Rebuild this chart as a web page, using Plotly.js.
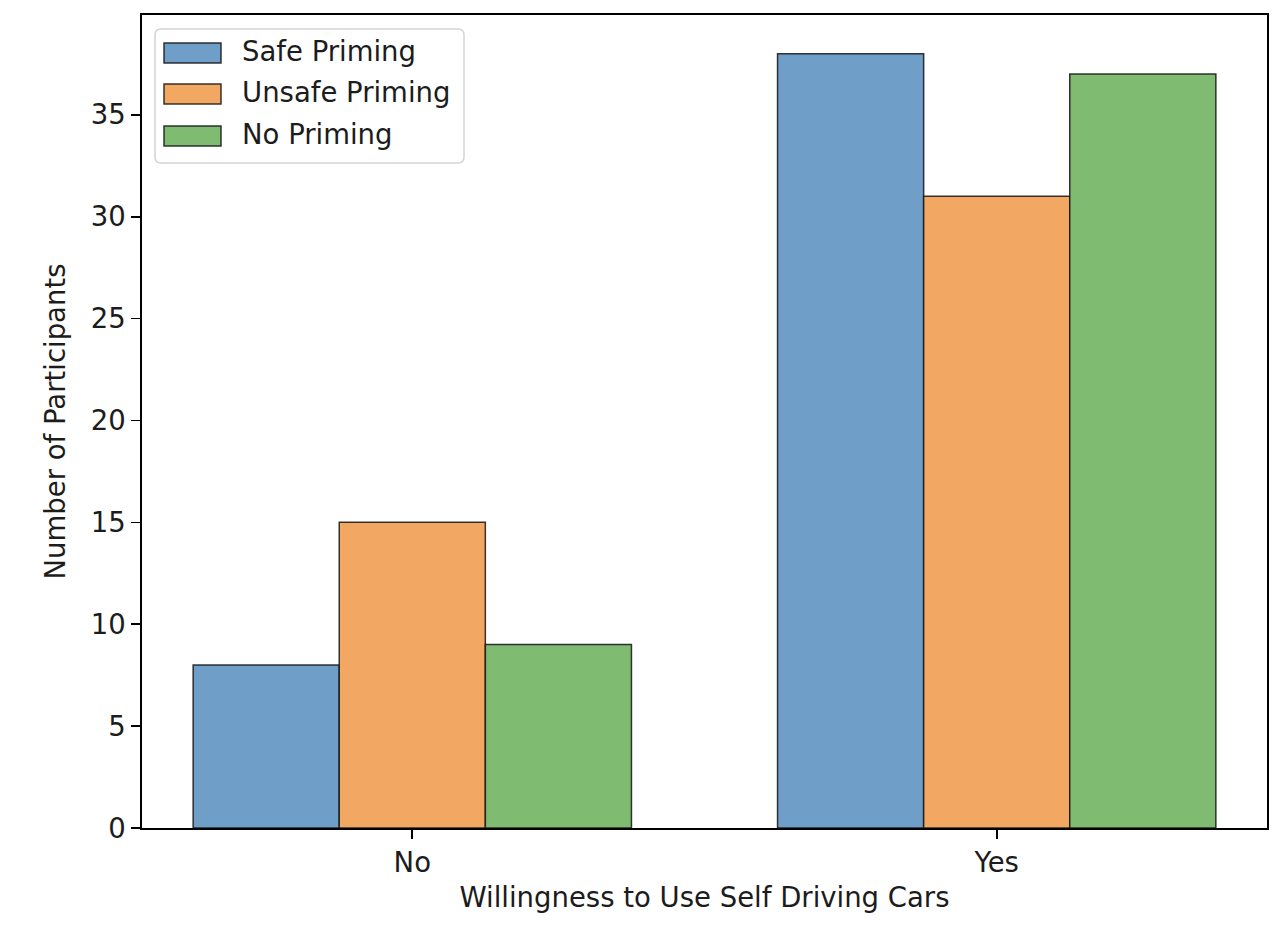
<!DOCTYPE html>
<html>
<head>
<meta charset="utf-8">
<script src="https://cdn.plot.ly/plotly-3.0.1.min.js"></script>
<style>
  html, body { margin: 0; padding: 0; background: #ffffff; }
  #chart { width: 1278px; height: 930px; }
</style>
</head>
<body>
<div id="chart"></div>
<script>
// ---- data ----
const categories = ["No", "Yes"];
const seriesNames = ["Safe Priming", "Unsafe Priming", "No Priming"];
const safePriming = [8, 38];
const unsafePriming = [15, 31];
const noPriming = [9, 37];
const yTickValues = [0, 5, 10, 15, 20, 25, 30, 35];
const xTitle = "Willingness to Use Self Driving Cars";
const yTitle = "Number of Participants";

// ---- styling ----
const colors = ["#6f9fc9", "#f2a863", "#80bb72"];
const edge = "rgba(20,20,20,0.85)";
const FONT = "DejaVu Sans, Liberation Sans, sans-serif";
const FS = 27.5;
const TXT = "#1c1c1c";

const seriesValues = [safePriming, unsafePriming, noPriming];
const traces = seriesValues.map((vals, i) => ({
  type: "bar",
  name: seriesNames[i],
  x: categories,
  y: vals,
  marker: { color: colors[i], line: { color: edge, width: 1.5 } },
  showlegend: false,
  hoverinfo: "x+y+name"
}));

// plot area in pixels
const W = 1278, H = 930;
const L = 142, R = 1267, T = 15, B = 828;
const pw = R - L, ph = B - T;
const px = x => (x - L) / pw;
const py = y => (B - y) / ph;

// custom legend (matplotlib-like)
const shapes = [];
const annotations = [];
const bx0 = 155, bx1 = 464, by0 = 29, by1 = 163, rad = 6;
function rr(x0, y0, x1, y1, r) {
  const P = (x, y) => px(x) + "," + py(y);
  return "M" + P(x0 + r, y0) + " L" + P(x1 - r, y0) +
    " Q" + P(x1, y0) + " " + P(x1, y0 + r) +
    " L" + P(x1, y1 - r) +
    " Q" + P(x1, y1) + " " + P(x1 - r, y1) +
    " L" + P(x0 + r, y1) +
    " Q" + P(x0, y1) + " " + P(x0, y1 - r) +
    " L" + P(x0, y0 + r) +
    " Q" + P(x0, y0) + " " + P(x0 + r, y0) + " Z";
}
shapes.push({
  type: "path", xref: "paper", yref: "paper",
  path: rr(bx0, by0, bx1, by1, rad),
  fillcolor: "rgba(255,255,255,0.8)",
  line: { color: "#d4d4d4", width: 1.5 },
  layer: "above"
});
const rowsY = [53, 94, 136];
seriesNames.forEach((nm, i) => {
  const cy = rowsY[i];
  shapes.push({
    type: "rect", xref: "paper", yref: "paper",
    x0: px(164), x1: px(221), y0: py(cy - 10), y1: py(cy + 10),
    fillcolor: colors[i], line: { color: edge, width: 1.5 }, layer: "above"
  });
  annotations.push({
    xref: "paper", yref: "paper", x: px(240), y: py(cy - 2),
    xanchor: "left", yanchor: "middle", showarrow: false,
    text: nm, font: { family: FONT, size: FS, color: TXT }
  });
});

const layout = {
  width: W, height: H,
  margin: { l: L, r: W - R, t: T, b: H - B, pad: 0 },
  paper_bgcolor: "#ffffff",
  plot_bgcolor: "#ffffff",
  font: { family: FONT, size: FS, color: TXT },
  barmode: "group",
  bargap: 0.25,
  bargroupgap: 0,
  xaxis: {
    type: "category",
    range: [-0.4625, 1.4625],
    showgrid: false, zeroline: false,
    showline: true, linecolor: "#000", linewidth: 1.8, mirror: true,
    ticks: "outside", ticklen: 9, tickwidth: 1.6, tickcolor: "#000",
    tickfont: { family: FONT, size: FS, color: TXT },
    title: { text: xTitle, font: { family: FONT, size: FS, color: TXT }, standoff: 11 },
    automargin: false,
    fixedrange: true
  },
  yaxis: {
    range: [0, 39.9],
    tickvals: yTickValues,
    ticktext: yTickValues.map(String),
    showgrid: false, zeroline: false,
    showline: true, linecolor: "#000", linewidth: 1.8, mirror: true,
    ticks: "outside", ticklen: 9, tickwidth: 1.6, tickcolor: "#000",
    tickfont: { family: FONT, size: FS, color: TXT },
    title: { text: yTitle, font: { family: FONT, size: FS, color: TXT }, standoff: 17 },
    automargin: false,
    fixedrange: true
  },
  shapes: shapes,
  annotations: annotations
};

Plotly.newPlot("chart", traces, layout, { displayModeBar: false, staticPlot: true });
</script>
</body>
</html>
